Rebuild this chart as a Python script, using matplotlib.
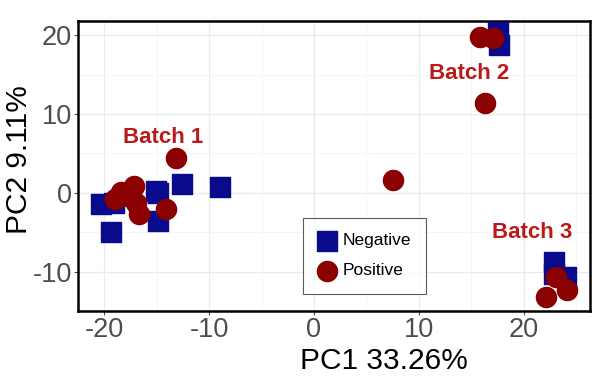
import matplotlib.pyplot as plt
from matplotlib.ticker import MultipleLocator

plt.rcParams['font.family'] = ['Liberation Sans', 'DejaVu Sans']
plt.rcParams['axes.unicode_minus'] = False

# PCA scores
neg_pc1 = [-20.3, -19.1, -19.4, -15.1, -14.9, -14.9, -12.6, -9.0,
           17.5, 17.6, 22.9, 24.0, 22.9]
neg_pc2 = [-1.4, -1.3, -5.0, 0.25, 0.0, -3.6, 1.1, 0.8,
           20.4, 18.8, -8.8, -10.7, -10.3]
pos_pc1 = [-13.2, -14.1, -17.2, -19.0, -18.4, -16.7, -17.0, -17.7,
           15.8, 17.1, 16.3, 7.5, 23.1, 24.1, 22.1]
pos_pc2 = [4.4, -2.0, 0.9, -0.8, 0.1, -2.7, -1.3, -0.4,
           19.8, 19.7, 11.4, 1.65, -10.7, -12.3, -13.2]

batch_labels = ['Batch 1', 'Batch 2', 'Batch 3']
batch_x = [-14.4, 14.8, 20.8]
batch_y = [7.0, 15.2, -5.1]

fig = plt.figure(figsize=(6, 3.83), dpi=100)
ax = fig.add_axes([0.13, 0.188, 0.853, 0.757])

ax.scatter(neg_pc1, neg_pc2, marker='s', s=200, color='#0a0a8c', label='Negative', zorder=3)
ax.scatter(pos_pc1, pos_pc2, marker='o', s=210, color='#8b0000', label='Positive', zorder=4)

for lab, x, y in zip(batch_labels, batch_x, batch_y):
    ax.text(x, y, lab, color='#bb1a1a', fontsize=16, fontweight='bold',
            ha='center', va='center', zorder=5)

ax.set_xlim(-22.5, 26.3)
ax.set_ylim(-15.0, 21.8)
ax.xaxis.set_major_locator(MultipleLocator(10))
ax.xaxis.set_minor_locator(MultipleLocator(5))
ax.yaxis.set_major_locator(MultipleLocator(10))
ax.yaxis.set_minor_locator(MultipleLocator(5))
ax.grid(which='major', color='#ebebeb', lw=0.9, zorder=0)
ax.grid(which='minor', color='#f4f4f4', lw=0.6, zorder=0)
ax.set_axisbelow(True)
ax.tick_params(which='major', labelsize=19.5, labelcolor='#4d4d4d', color='#4d4d4d',
               length=3, pad=1.5)
ax.tick_params(which='minor', length=0)
for sp in ax.spines.values():
    sp.set_linewidth(1.8)
    sp.set_color('black')

ax.set_xlabel('PC1 33.26%', fontsize=21.5)
ax.xaxis.set_label_coords(0.598, -0.124)
ax.set_ylabel('PC2 9.11%', fontsize=21.5)
ax.yaxis.set_label_coords(-0.088, 0.524)

leg = ax.legend(loc='lower left', bbox_to_anchor=(0.44, 0.059), borderaxespad=0,
                fontsize=12.5, frameon=True, fancybox=False, edgecolor='#333333',
                borderpad=0.9, handlelength=1.0, handletextpad=0.35,
                labelspacing=0.85, markerscale=1.0)
leg.get_frame().set_linewidth(0.8)

fig.savefig('out.png', dpi=100)
